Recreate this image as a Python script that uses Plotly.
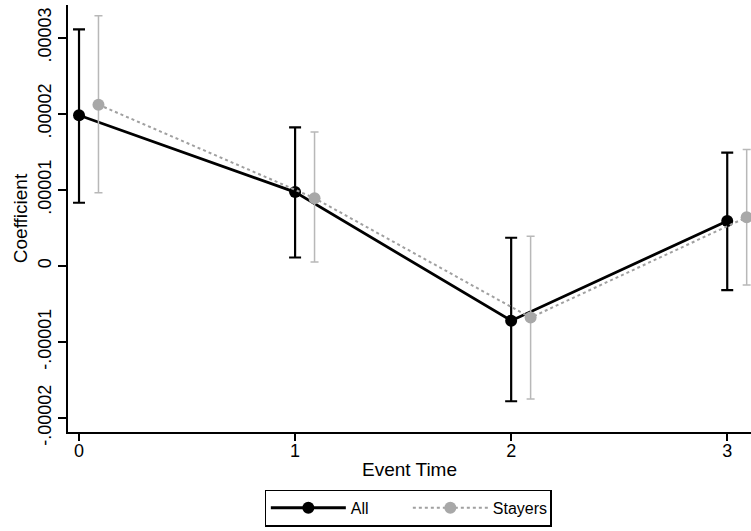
import plotly.graph_objects as go

event_time = [0, 1, 2, 3]
stayer_offset = 0.09

all_coef = [1.98e-5, 0.97e-5, -0.72e-5, 0.59e-5]
all_hi = [3.11e-5, 1.82e-5, 0.37e-5, 1.49e-5]
all_lo = [0.83e-5, 0.11e-5, -1.78e-5, -0.32e-5]

stay_coef = [2.12e-5, 0.89e-5, -0.68e-5, 0.64e-5]
stay_hi = [3.29e-5, 1.76e-5, 0.39e-5, 1.53e-5]
stay_lo = [0.96e-5, 0.05e-5, -1.75e-5, -0.25e-5]

ytick_vals = [-2e-5, -1e-5, 0, 1e-5, 2e-5, 3e-5]
ytick_text = ["-.00002", "-.00001", "0", ".00001", ".00002", ".00003"]
xtick_vals = [0, 1, 2, 3]
xtick_text = ["0", "1", "2", "3"]

FONT = "Liberation Sans, Arial, sans-serif"

fig = go.Figure()

fig.add_trace(go.Scatter(
    x=event_time, y=all_coef, name="All", mode="lines+markers",
    line=dict(color="black", width=2.8),
    marker=dict(color="black", size=12),
    error_y=dict(type="data", symmetric=False,
                 array=[h - c for h, c in zip(all_hi, all_coef)],
                 arrayminus=[c - l for c, l in zip(all_coef, all_lo)],
                 color="black", thickness=2.2, width=6),
))

fig.add_trace(go.Scatter(
    x=[t + stayer_offset for t in event_time], y=stay_coef, name="Stayers",
    mode="lines+markers",
    line=dict(color="#a0a0a0", width=2, dash="dot"),
    marker=dict(color="#a8a8a8", size=12),
    error_y=dict(type="data", symmetric=False,
                 array=[h - c for h, c in zip(stay_hi, stay_coef)],
                 arrayminus=[c - l for c, l in zip(stay_coef, stay_lo)],
                 color="#b8b8b8", thickness=1.5, width=4),
))

fig.update_layout(
    width=751, height=531,
    margin=dict(l=68, r=0, t=5, b=99),
    paper_bgcolor="white", plot_bgcolor="white",
    font=dict(family=FONT, size=18, color="black"),
    showlegend=True,
    legend=dict(orientation="h", x=0.498, xanchor="center", y=-0.135, yanchor="top",
                bordercolor="black", borderwidth=1.2, font=dict(size=16),
                itemwidth=75, entrywidth=52),
    xaxis=dict(range=[-0.051, 3.11], tickvals=xtick_vals, ticktext=xtick_text,
               showline=True, linecolor="black", linewidth=1.5,
               ticks="outside", ticklen=7, tickcolor="black", tickwidth=1.5,
               ticklabelstandoff=-5,
               showgrid=False, zeroline=False, tickfont=dict(size=18),
               title=dict(text="Event Time", standoff=2, font=dict(size=19))),
    yaxis=dict(range=[-2.184e-5, 3.43e-5], tickvals=ytick_vals, ticktext=ytick_text,
               tickangle=-90, tickfont=dict(size=18),
               showline=True, linecolor="black", linewidth=1.5,
               ticks="outside", ticklen=8, tickcolor="black", tickwidth=1.5,
               showgrid=False, zeroline=False,
               title=dict(text="Coefficient", standoff=2, font=dict(size=19))),
)

fig.write_html("out.html")
